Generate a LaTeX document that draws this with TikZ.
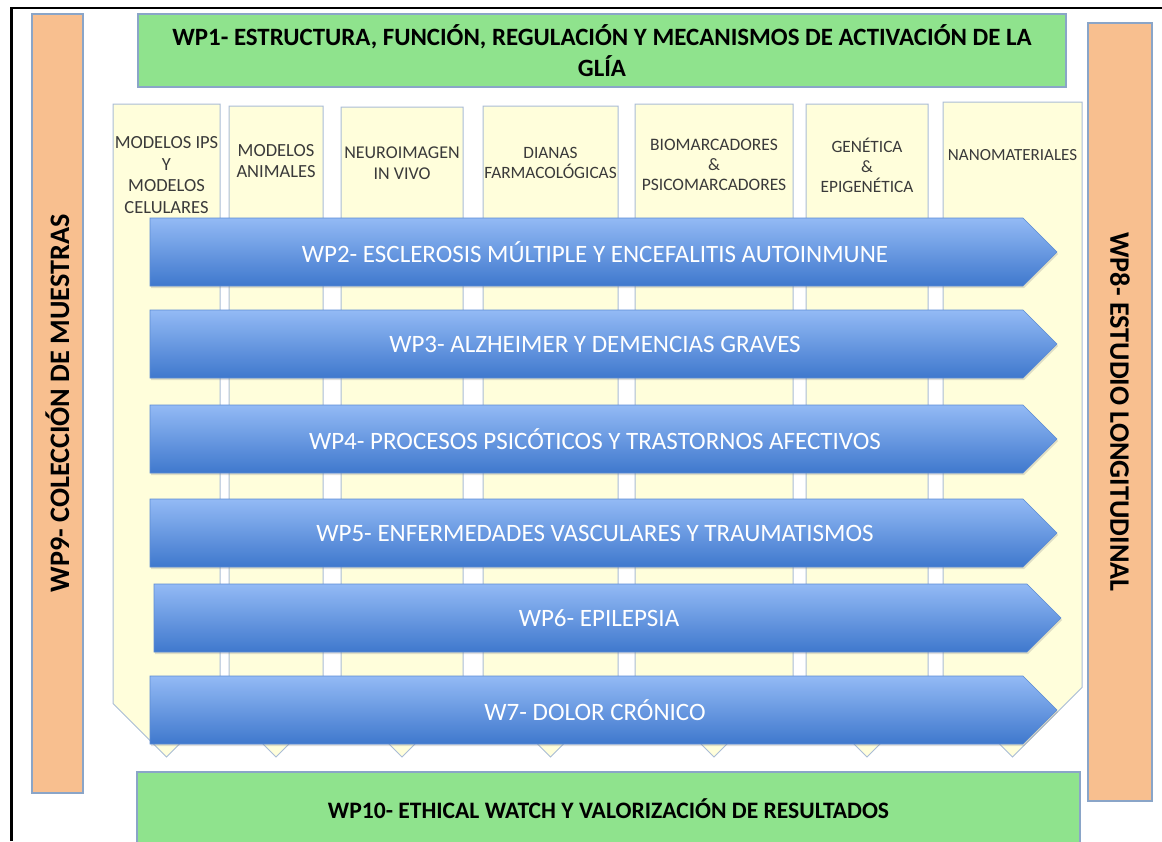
\documentclass[tikz,border=0pt]{standalone}
\usepackage{fontspec}
\setmainfont{Carlito}
\usepackage{xcolor}
\usepackage{tikz}
\usetikzlibrary{shadows}

\definecolor{wpgreen}{HTML}{8FE38D}
\definecolor{wporange}{HTML}{F8BF8F}
\definecolor{wpedge}{HTML}{8AA5C8}
\definecolor{coledge}{HTML}{A9BCD6}
\definecolor{colfill}{HTML}{FFFEDB}
\definecolor{arrowtop}{HTML}{93BAF5}
\definecolor{arrowbot}{HTML}{3F78CD}
\definecolor{labelgray}{HTML}{3A3A3A}

\begin{document}
\begin{tikzpicture}
      [ x=1pt, y=-1pt,
        wpbox/.style={draw=wpedge, line width=1.2pt, fill=wpgreen, align=center, inner sep=0pt,
                      font=\bfseries\fontsize{24.9}{31}\selectfont},
        sidebar/.style={draw=wpedge, line width=1.2pt, fill=wporange, inner sep=0pt,
                        font=\bfseries\fontsize{28.2}{33}\selectfont},
        column/.style={draw=coledge, line width=1pt, fill=colfill},
        collabel/.style={text=labelgray, align=center},
        wparrow/.style={draw=arrowbot!85!white, line width=0.6pt, top color=arrowtop, bottom color=arrowbot,
                        drop shadow={opacity=0.25, shadow xshift=1pt, shadow yshift=-2pt}},
        arrowtext/.style={font=\fontsize{25}{29}\selectfont, text=white}
      ]
      \useasboundingbox (0,0) rectangle (1162,841);

      % frame
      \draw[line width=3pt] (11.5,841) -- (11.5,8);
      \draw[line width=2pt] (10,8) -- (1162,8);

      % top, bottom and side work packages
      \node[wpbox, minimum width=928, minimum height=73] (wp1) at (602,50.5)
            {WP1- ESTRUCTURA, FUNCIÓN, REGULACIÓN Y MECANISMOS DE ACTIVACIÓN DE LA\\GLÍA};
      \node[wpbox, minimum width=943, minimum height=73, font=\bfseries\fontsize{23.6}{28}\selectfont]
            (wp10) at (608.5,808.5) {WP10- ETHICAL WATCH Y VALORIZACIÓN DE RESULTADOS};
      \node[sidebar, rotate=90, minimum width=779, minimum height=51]
            (wp9) at (57.5,403.5) {WP9- COLECCIÓN DE MUESTRAS};
      \node[sidebar, rotate=-90, minimum width=778, minimum height=64]
            (wp8) at (1120,412) {WP8- ESTUDIO LONGITUDINAL};

      % columns
      \foreach \l/\r/\t/\ly/\fs/\txt [count=\i] in
        {113/220/104/175/18.5/{MODELOS IPS\\Y\\MODELOS\\CELULARES},
         229/323/106/161/18.5/{MODELOS\\ANIMALES},
         341/463/107/163/18/{NEUROIMAGEN\\IN VIVO},
         483/618/106/163/17.3/{DIANAS\\FARMACOLÓGICAS},
         635/793/104/165/17.5/{BIOMARCADORES\\\&\\PSICOMARCADORES},
         806/928/104/165/17.3/{GENÉTICA\\\&\\EPIGENÉTICA},
         943/1082/102/155/17/{NANOMATERIALES}}
      {
        \pgfmathsetmacro\m{(\l+\r)/2}
        \pgfmathsetmacro\s{757-(\r-\l)/2}
        \pgfmathsetmacro\bs{1.16*\fs}
        \draw[column] (\l,\t) -- (\r,\t) -- (\r,\s) -- (\m,757) -- (\l,\s) -- cycle;
        \node[collabel, font=\fontsize{\fs}{\bs}\selectfont] (col\i) at (\m,\ly) {\txt};
      }

      % disease arrows
      \foreach \a/\t/\n/\txt in
        {150/218/2/{WP2- ESCLEROSIS MÚLTIPLE Y ENCEFALITIS AUTOINMUNE},
         150/310/3/{WP3- ALZHEIMER Y DEMENCIAS GRAVES},
         150/405/4/{WP4- PROCESOS PSICÓTICOS Y TRASTORNOS AFECTIVOS},
         150/499/5/{WP5- ENFERMEDADES VASCULARES Y TRAUMATISMOS},
         154/584/6/{WP6- EPILEPSIA},
         150/676/7/{W7- DOLOR CRÓNICO}}
      {
        \draw[wparrow] (\a,\t) -- ++(873,0) -- ++(34,34) -- ++(-34,34) -- ++(-873,0) -- cycle;
        \node[arrowtext] (wp\n) at (\a+445,\t+34) {\txt};
      }
\end{tikzpicture}
\end{document}
